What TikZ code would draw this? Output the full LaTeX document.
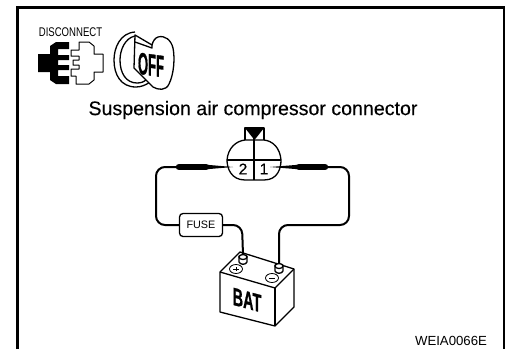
\documentclass[tikz,border=0pt]{standalone}
\usepackage{fontspec}
\setmainfont{Liberation Sans}
\begin{document}
\begin{tikzpicture}[x=1pt,y=-1pt,
  frameline/.style={line width=3pt,line cap=butt},
  outl/.style={line width=1.3pt,line join=round},
  wire/.style={line width=2pt,rounded corners=9pt},
  sleeve/.style={line width=6.4pt,line cap=round},
  ftext/.style={inner sep=0pt,anchor=center}]
\useasboundingbox (0,0) rectangle (505,349);
\draw[frameline] (17.5,349) -- (17.5,7.5) -- (504.5,7.5) -- (504.5,349);
% disconnect icon
\node[ftext,xscale=0.76] (disc) at (70.5,32.5) {\fontsize{12.6}{13}\selectfont DISCONNECT};
\fill (69,42) -- (56,42) -- (50,46) -- (50,54) -- (38,54) -- (38,72) -- (50,72) -- (50,80) -- (56,84) -- (69,84) -- (69,76) -- (58,76) -- (58,70) -- (69,70) -- (69,65) -- (58,65) -- (58,60) -- (69,60) -- (69,55) -- (58,55) -- (58,49) -- (69,49) -- cycle;
\draw[outl,line width=1pt] (79,42) -- (89,42) -- (94,46) -- (94,54) -- (103,54) -- (103,72) -- (94,72) -- (94,80) -- (89,84) -- (76,84) -- (76,76) -- (71,76) -- (71,69) -- (79,69) -- (79,65) -- (73,65) -- (73,60) -- (79,60) -- (79,56) -- (71,56) -- (71,50) -- (79,50) -- cycle;
% key
\draw[outl] (135,32) .. controls (120,33) and (114,48) .. (114,60) .. controls (114,75) and (121,87) .. (136,87) .. controls (141,87) and (146,85) .. (150,82);
\draw[outl] (135,36) .. controls (125,38) and (120,50) .. (120,60) .. controls (120,73) and (126,83) .. (137,83) .. controls (141,83) and (144,82) .. (147,79);
\draw[outl,fill=white] (135,35) -- (134,68) -- (153,87) .. controls (158,90) and (166,91) .. (169,84) .. controls (174,74) and (175,58) .. (173,48) .. controls (171,40) and (165,35) .. (158,37) .. controls (155,38) and (153,41) .. (152,45) -- cycle;
\draw[outl] (135,42) -- (152,48) -- (152,45);
\node[ftext,yslant=-0.14,xscale=0.42] (off) at (151,65) {\fontsize{31}{31}\selectfont\bfseries\addfontfeature{FakeBold=1}OFF};
% title
\node[ftext] (title) at (253,110) {\fontsize{19.6}{21}\selectfont\addfontfeature{FakeBold=0.25}Suspension air compressor connector};
% connector
\draw[outl] (245,140) -- (245,128) -- (264,128) -- (264,140);
\fill (245,128) -- (264,128) -- (254.5,140) -- cycle;
\draw[outl] (227,160) .. controls (228,148) and (236,141) .. (245,140) -- (264,140) .. controls (273,141) and (280,148) .. (281,160) .. controls (281,168) and (278,180) .. (264,180) -- (245,180) .. controls (231,180) and (227,168) .. (227,160) -- cycle;
\draw[outl] (227,160) -- (281,160);
\draw[outl] (254,128) -- (254,180);
\node[ftext,fill=white,inner sep=0.5pt] (p2) at (243,169) {\fontsize{15.5}{15}\selectfont\addfontfeature{FakeBold=0.25}2};
\node[ftext,fill=white,inner sep=0.5pt] (p1) at (264,169) {\fontsize{15.5}{15}\selectfont\addfontfeature{FakeBold=0.25}1};
% fuse
\node[draw,line width=1.3pt,rounded corners=3.5pt,minimum width=43pt,minimum height=23pt,inner sep=0pt] (fuse) at (201,225) {\fontsize{10.8}{11}\selectfont FUSE};
% battery
\draw[outl,fill=white] (220,272) -- (240,252) -- (294,269) -- (294,307) -- (275,326) -- (220,312) -- cycle;
\draw[outl] (220,272) -- (275,288) -- (294,269);
\draw[outl] (275,288) -- (275,326);
\draw[line width=0.8pt] (236,269) ellipse (6.5pt and 4.5pt);
\draw[line width=0.8pt] (272,278) ellipse (6.5pt and 4.5pt);
\draw[line width=0.7pt] (233,269) -- (239,269) (236,267) -- (236,271);
\draw[line width=0.7pt] (269,278) -- (275,278);
\coordinate (posa) at (243,255);
\coordinate (posb) at (279,264);
\draw[outl,fill=white] (239,256) -- (239,262) .. controls (240,265) and (246,265) .. (247,262) -- (247,256) -- cycle;
\draw[outl,fill=white] (275,265) -- (275,271) .. controls (276,274) and (282,274) .. (283,271) -- (283,265) -- cycle;
\draw[outl,fill=white] (243,257) ellipse (4pt and 2.5pt);
\draw[outl,fill=white] (279,266) ellipse (4pt and 2.5pt);
\node[ftext,yslant=-0.27,xscale=0.58] (bat) at (247,300) {\fontsize{25}{25}\selectfont\bfseries\addfontfeature{FakeBold=1}BAT};
% wires
\coordinate (la) at (179,167);
\coordinate (ra) at (296,167);
\draw[wire] (la) -- (156,167) -- (156,225) -- (fuse.west);
\draw[wire] (fuse.east) -- (242,225) -- (posa);
\draw[wire] (posb) -- (279,225) -- (349,225) -- (349,167) -- (ra);
\draw[sleeve] (179,167) -- (206,167);
\draw[sleeve] (299,167) -- (325,167);
\coordinate (lt) at (233,167);
\coordinate (rt) at (270,167);
\fill (206,164.7) -- (lt) -- (206,169.3) -- cycle;
\fill (299,164.7) -- (rt) -- (299,169.3) -- cycle;
\node[ftext] (code) at (451,341) {\fontsize{13.2}{14}\selectfont WEIA0066E};
\end{tikzpicture}
\end{document}
